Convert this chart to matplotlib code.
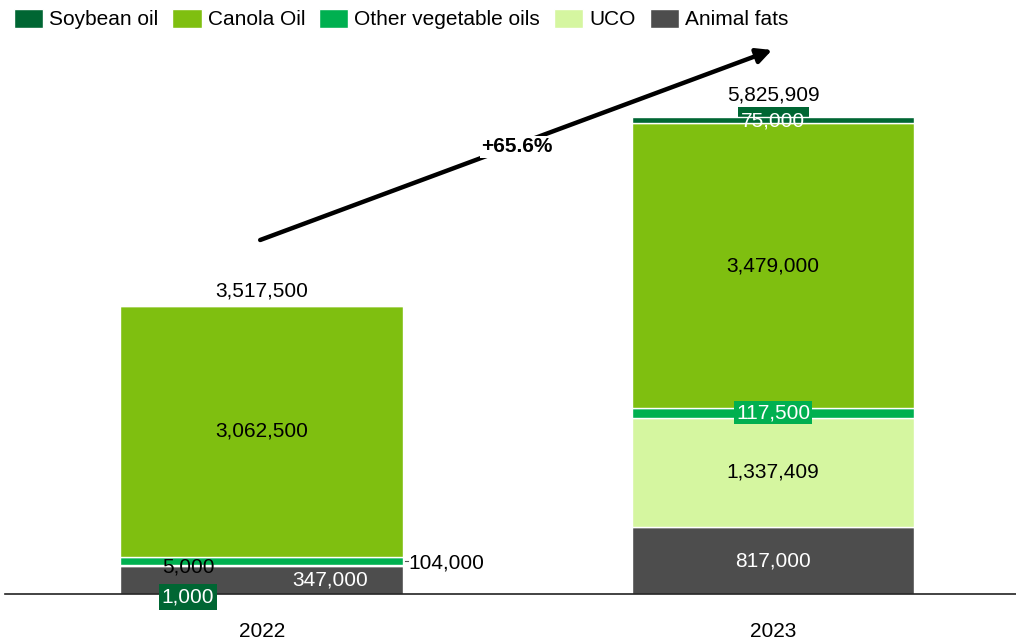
import matplotlib.pyplot as plt
import numpy as np
from matplotlib.patches import Rectangle

plt.rcParams['font.family'] = ['Liberation Sans', 'DejaVu Sans']

years = ['2022', '2023']
animal_fats = [347000, 817000]
uco = [5000, 1337409]
other_veg = [104000, 117500]
canola = [3062500, 3479000]
soybean = [1000, 75000]
totals = [3517500, 5825909]
growth = '+65.6%'

c_soy = '#006633'
c_canola = '#7fbf10'
c_other = '#00b050'
c_uco = '#d5f6a0'
c_animal = '#4d4d4d'

fig = plt.figure(figsize=(10.16, 6.41), dpi=100)
ax = fig.add_axes([5 / 1016, 47 / 641, 1011 / 1016, 594 / 641])

x = np.arange(len(years))
w = 0.553
series = [(animal_fats, c_animal, 'Animal fats'),
          (uco, c_uco, 'UCO'),
          (other_veg, c_other, 'Other vegetable oils'),
          (canola, c_canola, 'Canola Oil'),
          (soybean, c_soy, 'Soybean oil')]
bottom = np.zeros(len(years))
handles = {}
for vals, col, name in series:
    b = ax.bar(x, vals, w, bottom=bottom, color=col, edgecolor='white', linewidth=1, zorder=2, label=name)
    handles[name] = b
    bottom += np.array(vals)
top = bottom.copy()

ppx = totals[1] / 477.0  # value per pixel
ax.set_xlim(-0.502, 1.475)
ax.set_ylim(0, 594 * ppx)

fmt = lambda v: f'{v:,}'
fs = 15

# 2022 labels
b0 = [0, animal_fats[0], animal_fats[0] + uco[0], animal_fats[0] + uco[0] + other_veg[0]]
ax.text(x[0] + 0.134, animal_fats[0] / 2, fmt(animal_fats[0]), color='white', ha='center', va='center', fontsize=fs, zorder=5)
ax.text(x[0] - 0.144, b0[1] + uco[0] / 2 - 2 * ppx, fmt(uco[0]), color='black', ha='center', va='center', fontsize=fs, zorder=5)
ax.text(x[0] - 0.144, -3 * ppx, fmt(soybean[0]), color='white', ha='center', va='center', fontsize=fs, zorder=5,
        bbox=dict(boxstyle='square,pad=0.15', fc=c_soy, ec='none'), clip_on=False)
ax.plot([x[0] + w / 2 + 0.003, x[0] + w / 2 + 0.009], [b0[2] + other_veg[0] / 2] * 2, color='#555555', lw=0.8, zorder=5)
ax.text(x[0] + w / 2 + 0.011, b0[2] + other_veg[0] / 2 - 2 * ppx, fmt(other_veg[0]), color='black', ha='left', va='center', fontsize=fs, zorder=5)
ax.text(x[0], b0[3] + canola[0] / 2, fmt(canola[0]), color='black', ha='center', va='center', fontsize=fs, zorder=5)
ax.text(x[0], totals[0] + 15 * ppx, fmt(totals[0]), color='black', ha='center', va='center', fontsize=fs, zorder=5)

# 2023 labels
b1 = [0, animal_fats[1], animal_fats[1] + uco[1], animal_fats[1] + uco[1] + other_veg[1]]
ax.text(x[1], animal_fats[1] / 2, fmt(animal_fats[1]), color='white', ha='center', va='center', fontsize=fs, zorder=5)
ax.text(x[1], b1[1] + uco[1] / 2, fmt(uco[1]), color='black', ha='center', va='center', fontsize=fs, zorder=5)
ax.text(x[1], b1[2] + other_veg[1] / 2, fmt(other_veg[1]), color='white', ha='center', va='center', fontsize=fs, zorder=5,
        bbox=dict(boxstyle='square,pad=0.1', fc=c_other, ec='none'))
ax.text(x[1], b1[3] + canola[1] / 2, fmt(canola[1]), color='black', ha='center', va='center', fontsize=fs, zorder=5)
# soybean label background sits behind the bar, text on top
ax.add_patch(Rectangle((x[1] - 0.0695, top[1] - 15 * ppx), 0.139, 25 * ppx, fc=c_soy, ec='none', zorder=1))
ax.text(x[1], top[1] - 4 * ppx, fmt(soybean[1]), color='white', ha='center', va='center', fontsize=fs, zorder=5)
ax.text(x[1], totals[1] + 22 * ppx, fmt(totals[1]), color='black', ha='center', va='center', fontsize=fs, zorder=5)

# growth arrow
ax.annotate('', xy=(0.998, 544 * ppx), xytext=(-0.003, 354 * ppx),
            arrowprops=dict(arrowstyle='-|>,head_length=0.9,head_width=0.45', lw=3.2, color='black', shrinkA=0, shrinkB=0),
            zorder=3, annotation_clip=False)
ax.text(0.4995, 447 * ppx, growth, fontsize=fs, fontweight='bold', ha='center', va='center', zorder=6,
        bbox=dict(boxstyle='square,pad=0.08', fc='white', ec='none'))

ax.set_xticks(x)
ax.set_xticklabels(years, fontsize=fs)
ax.tick_params(axis='x', length=0, pad=20)
ax.set_yticks([])
for s in ['top', 'right', 'left']:
    ax.spines[s].set_visible(False)
ax.spines['bottom'].set_color('#222222')
ax.spines['bottom'].set_linewidth(1.2)
ax.spines['bottom'].set_zorder(4)

order = ['Soybean oil', 'Canola Oil', 'Other vegetable oils', 'UCO', 'Animal fats']
fig.legend([handles[n] for n in order], order, loc='upper left', bbox_to_anchor=(14 / 1016, 1 - 9 / 641),
           ncol=5, frameon=False, fontsize=fs, borderpad=0, borderaxespad=0,
           handlelength=1.4, handleheight=1.0, handletextpad=0.3, columnspacing=0.66)

plt.savefig('out.png', dpi=100)
